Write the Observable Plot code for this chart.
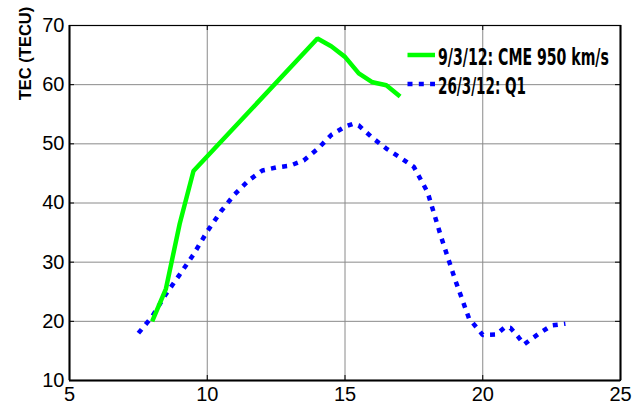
<!DOCTYPE html>
<html>
<head>
<meta charset="utf-8">
<script src="https://cdn.jsdelivr.net/npm/d3@7"></script>
<script src="https://cdn.jsdelivr.net/npm/@observablehq/plot@0.6"></script>
<style>
  html, body { margin: 0; padding: 0; background: #fff; }
  #chart svg { display: block; }
</style>
</head>
<body>
<div id="chart"></div>
<script>
// TEC on a CME day versus a quiet day, by hour (UT)
const seriesNames = ["9/3/12: CME 950 km/s", "26/3/12: Q1"];
const seriesColors = ["#00ff00", "#0000ff"];

const cmeHours = [8, 8.5, 9, 9.5, 14, 14.5, 15, 15.5, 16, 16.5, 17];
const cmeTec   = [20, 25.5, 36.5, 45.4, 67.8, 66.5, 64.7, 61.9, 60.4, 59.9, 58.0];

const quietHours = [7.5, 8, 8.5, 9, 9.5, 10, 10.5, 11, 11.5, 12, 12.5, 13, 13.5, 14, 14.5, 15, 15.3, 15.5,
                    16, 16.5, 17, 17.5, 18, 18.5, 19, 19.5, 20, 20.5, 20.8, 21, 21.3, 21.5, 22, 22.5, 23];
const quietTec   = [18.0, 20.8, 24.6, 27.9, 31.3, 35.2, 38.6, 41.5, 43.8, 45.5, 46.0, 46.3, 47.2, 49.1, 51.5, 52.9, 53.4, 53.1,
                    51.0, 49.2, 47.7, 46.1, 41.8, 34.1, 27.0, 20.5, 17.7, 17.8, 19.0, 18.9, 17.3, 16.1, 17.8, 19.3, 19.6];

const xTicks = [5, 10, 15, 20, 25];
const yTicks = [10, 20, 30, 40, 50, 60, 70];
const yLabel = "TEC (TECU)";

const cmeRows = cmeHours.map((h, i) => ({hour: h, tec: cmeTec[i]}));
const quietRows = quietHours.map((h, i) => ({hour: h, tec: quietTec[i]}));

const W = 642, H = 407;
const M = {top: 25, right: 22, bottom: 27, left: 69};
const innerW = W - M.left - M.right;
const innerH = H - M.top - M.bottom;
const tickLen = 5;

const chart = Plot.plot({
  width: W,
  height: H,
  marginTop: M.top,
  marginRight: M.right,
  marginBottom: M.bottom,
  marginLeft: M.left,
  style: {
    fontFamily: "'Liberation Sans', Arial, sans-serif",
    fontSize: "20px",
    background: "#fff",
    color: "#000"
  },
  x: {domain: [5, 25]},
  y: {domain: [10, 70]},
  marks: [
    Plot.gridX(xTicks.slice(1, -1), {stroke: "#8a8a8a", strokeOpacity: 1, strokeWidth: 1}),
    Plot.gridY(yTicks.slice(1, -1), {stroke: "#8a8a8a", strokeOpacity: 1, strokeWidth: 1}),
    // inward tick marks on all four sides
    Plot.ruleX(xTicks, {stroke: "#000", insetTop: innerH - tickLen}),
    Plot.ruleX(xTicks, {stroke: "#000", insetBottom: innerH - tickLen}),
    Plot.ruleY(yTicks, {stroke: "#000", insetRight: innerW - tickLen}),
    Plot.ruleY(yTicks, {stroke: "#000", insetLeft: innerW - tickLen}),
    Plot.axisX(xTicks, {tickSize: 0, tickPadding: 6, label: null, fontSize: 20}),
    Plot.axisY(yTicks, {tickSize: 0, tickPadding: 5, label: null, fontSize: 20}),
    Plot.frame({stroke: "#000", strokeWidth: 1.2}),
    Plot.ruleY([10], {stroke: "#000", strokeWidth: 2}),
    Plot.ruleX([5], {stroke: "#000", strokeWidth: 2}),
    Plot.ruleX([25], {stroke: "#000", strokeWidth: 2}),
    Plot.line(quietRows, {
      x: "hour", y: "tec", stroke: seriesColors[1], strokeWidth: 4.5,
      strokeDasharray: "5,6.3", strokeLinecap: "butt", strokeLinejoin: "miter"
    }),
    Plot.line(cmeRows, {
      x: "hour", y: "tec", stroke: seriesColors[0], strokeWidth: 4.5,
      strokeLinecap: "butt", strokeLinejoin: "miter"
    }),
    Plot.text([yLabel], {
      frameAnchor: "top-left", dx: -44, dy: 28, rotate: -90,
      textAnchor: "middle", lineAnchor: "middle",
      fontSize: 16.5, fontWeight: "bold", fill: "#000"
    })
  ]
});

document.getElementById("chart").appendChild(chart);

// legend: line sample + condensed bold label for each series
const svg = d3.select(chart);
const legend = svg.append("g").attr("class", "series-legend").attr("text-anchor", "start");
const legendRows = [
  {name: seriesNames[0], color: seriesColors[0], dash: null, y: 55, textW: 171},
  {name: seriesNames[1], color: seriesColors[1], dash: "5,6.3", y: 84, textW: 88}
];
legendRows.forEach(r => {
  legend.append("line")
    .attr("x1", 407.5).attr("x2", 435)
    .attr("y1", r.y).attr("y2", r.y)
    .attr("stroke", r.color)
    .attr("stroke-width", 4.5)
    .attr("stroke-linecap", "butt")
    .attr("stroke-dasharray", r.dash);
  const t = legend.append("text")
    .attr("x", 0).attr("y", 0)
    .attr("text-anchor", "start")
    .attr("font-family", "'Liberation Sans Narrow', 'DejaVu Sans Condensed', 'Liberation Sans', sans-serif")
    .attr("font-weight", "bold")
    .attr("font-size", 23)
    .attr("fill", "#000")
    .text(r.name);
  // squeeze the label horizontally to its narrow set width
  const natural = t.node().getComputedTextLength() || r.textW;
  t.attr("transform", `translate(438,${r.y + 10}) scale(${r.textW / natural},1)`);
});
</script>
</body>
</html>
